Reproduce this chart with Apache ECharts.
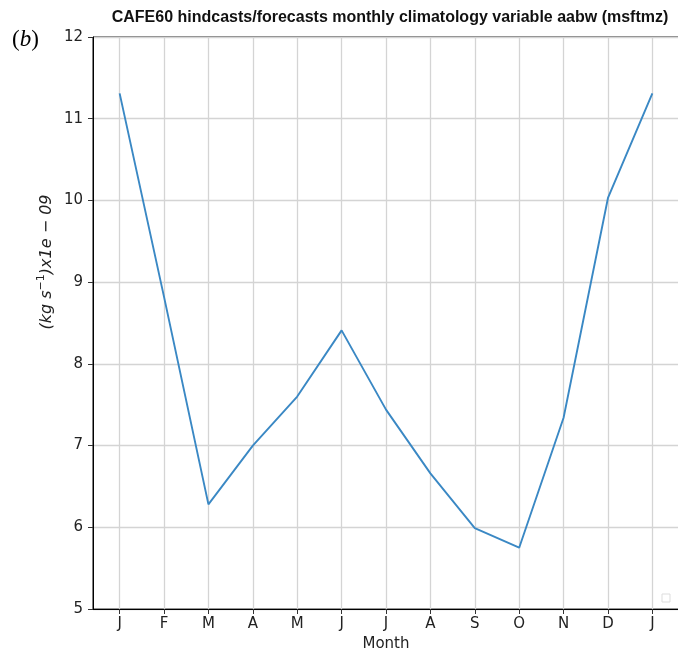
<!DOCTYPE html>
<html>
<head>
<meta charset="utf-8">
<script src="https://cdn.jsdelivr.net/npm/echarts@6/dist/echarts.min.js"></script>
<style>html,body{margin:0;padding:0;background:#fff;}#c{width:678px;height:652px;}</style>
</head>
<body>
<div id="c"></div>
<script>
var months = ['J','F','M','A','M','J','J','A','S','O','N','D','J'];
var values = [11.31, 8.82, 6.28, 7.00, 7.60, 8.41, 7.44, 6.66, 5.99, 5.75, 7.34, 10.03, 11.31];
var yTicks = [5, 6, 7, 8, 9, 10, 11, 12];
var titleText = 'CAFE60 hindcasts/forecasts monthly climatology variable aabw (msftmz)';
var yNameParts = ['(kg s', '\u22121', ')x1e \u2212 09'];
var xName = 'Month';

var positions = months.map(function (m, i) { return i; });
var seriesData = values.map(function (v, i) { return [positions[i], v]; });

var chart = echarts.init(document.getElementById('c'), null, {renderer: 'canvas'});
chart.setOption({
  animation: false,
  backgroundColor: '#fff',
  title: [{
    text: titleText,
    left: 385, top: 5, textAlign: 'center',
    textStyle: {fontFamily: 'Liberation Sans', fontWeight: 'bold', fontSize: 16, color: '#111'}
  }],
  grid: {
    left: 93, right: -1, top: 37, bottom: 43,
    show: true, borderColor: '#000', borderWidth: 1,
    outerBoundsMode: 'none', containLabel: false
  },
  xAxis: {
    type: 'value', min: -0.6, max: 12.6,
    name: xName, nameLocation: 'middle', nameGap: 24,
    nameTextStyle: {fontFamily: 'DejaVu Sans', fontSize: 15, color: '#222'},
    axisLine: {show: true, onZero: false, lineStyle: {color: '#000', width: 1}},
    axisTick: {show: true, inside: false, length: 5, lineStyle: {color: '#333'}, customValues: positions},
    axisLabel: {
      customValues: positions, margin: 8,
      fontFamily: 'DejaVu Sans', fontSize: 15, color: '#222',
      formatter: function (v) { var i = Math.round(v); return months[i] || ''; }
    },
    splitLine: {show: true, lineStyle: {color: '#d4d4d4', width: 1.3}}
  },
  yAxis: {
    type: 'value', min: yTicks[0], max: yTicks[yTicks.length - 1], interval: 1,
    axisLine: {show: true, onZero: false, lineStyle: {color: '#000', width: 1}},
    axisTick: {show: true, inside: false, length: 5, lineStyle: {color: '#333'}},
    axisLabel: {margin: 10, fontFamily: 'DejaVu Sans', fontSize: 15, color: '#222'},
    splitLine: {show: true, lineStyle: {color: '#d4d4d4', width: 1.3}}
  },
  graphic: [
    {
      type: 'text', x: 12, y: 40,
      style: {
        text: '{p|(}{b|b}{p|)}',
        textVerticalAlign: 'middle',
        rich: {
          p: {fontFamily: 'Liberation Serif', fontSize: 23, fill: '#000'},
          b: {fontFamily: 'Liberation Serif', fontStyle: 'italic', fontSize: 23, fill: '#000'}
        }
      }
    },
    {
      type: 'text', x: 47, y: 262, rotation: Math.PI / 2,
      style: {
        text: '{a|' + yNameParts[0] + '}{s|' + yNameParts[1] + '}{a|' + yNameParts[2] + '}',
        align: 'center', verticalAlign: 'middle',
        rich: {
          a: {fontFamily: 'DejaVu Sans', fontStyle: 'oblique', fontSize: 16, fill: '#222', lineHeight: 22},
          s: {fontFamily: 'DejaVu Sans', fontSize: 11, fill: '#222', verticalAlign: 'top', lineHeight: 22}
        }
      }
    },
    {
      type: 'rect', shape: {x: 662, y: 594, width: 8, height: 8},
      style: {fill: '#fff', stroke: '#ddd', lineWidth: 1}
    }
  ],
  series: [{
    type: 'line', data: seriesData, symbol: 'none',
    lineStyle: {color: '#3a88c4', width: 1.9}
  }]
});
</script>
</body>
</html>
